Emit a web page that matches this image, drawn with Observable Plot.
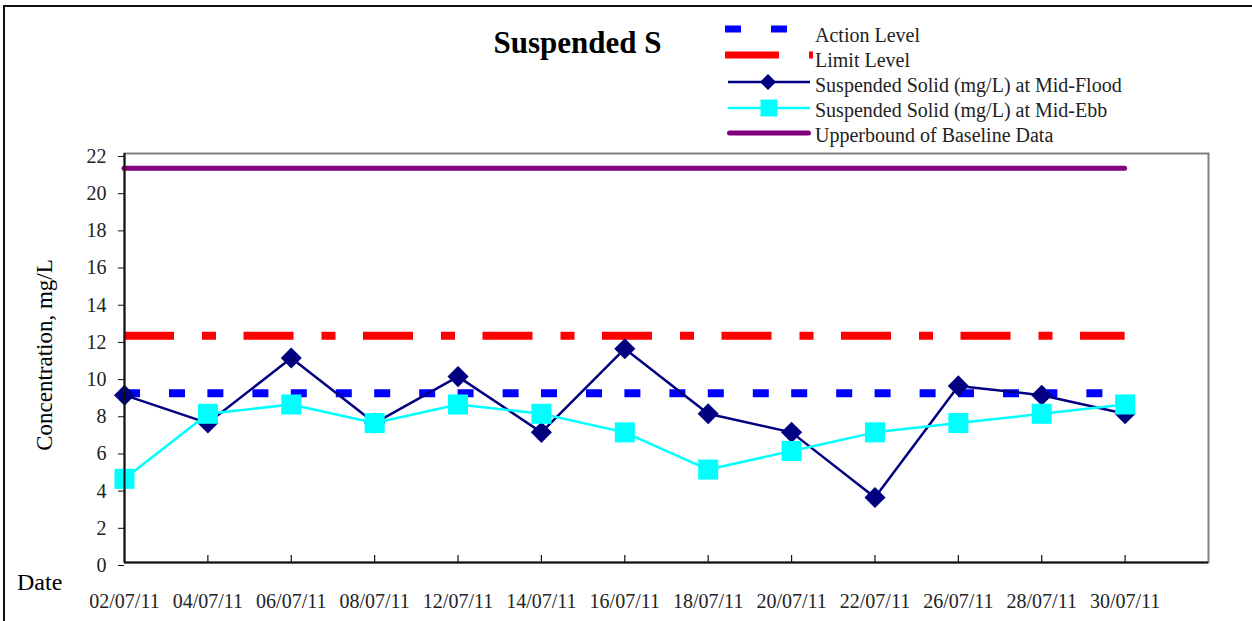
<!DOCTYPE html>
<html>
<head>
<meta charset="utf-8">
<script src="https://cdn.jsdelivr.net/npm/d3@7"></script>
<script src="https://cdn.jsdelivr.net/npm/@observablehq/plot@0.6"></script>
<style>
  html, body { margin: 0; padding: 0; background: #fff; overflow: hidden; }
  #chart { position: relative; width: 1252px; height: 621px; overflow: hidden; }
  #chart > svg { position: absolute; left: 0; top: 0; }
  .border { position: absolute; left: 3px; top: 5px; width: 1400px; height: 800px;
            border-left: 2px solid #111; border-top: 2px solid #111; }
</style>
</head>
<body>
<div id="chart"><div class="border"></div></div>
<script>
// Sampling dates (x categories)
const dates = ["02/07/11", "04/07/11", "06/07/11", "08/07/11", "12/07/11", "14/07/11", "16/07/11",
               "18/07/11", "20/07/11", "22/07/11", "26/07/11", "28/07/11", "30/07/11"];

// Suspended solids (mg/L)
const midFlood = [9, 7.5, 11, 7.5, 10, 7, 11.5, 8, 7, 3.5, 9.5, 9, 8];
const midEbb   = [4.5, 8, 8.5, 7.5, 8.5, 8, 7, 5, 6, 7, 7.5, 8, 8.5];

// Compliance levels (mg/L)
const actionLevel = 9.1;
const limitLevel = 12.2;
const baselineUpper = 21.2;

// Axis ticks
const yTicks = [0, 2, 4, 6, 8, 10, 12, 14, 16, 18, 20, 22];
const xTicks = d3.range(dates.length);

const rows = dates.map((date, i) => ({i, date, flood: midFlood[i], ebb: midEbb[i]}));
const first = 0, last = dates.length - 1;

const W = 1252, H = 621;
const margin = {top: 153, right: 44, bottom: 59, left: 124};
const innerH = H - margin.top - margin.bottom;

const plot = Plot.plot({
  width: W,
  height: H,
  marginTop: margin.top,
  marginRight: margin.right,
  marginBottom: margin.bottom,
  marginLeft: margin.left,
  style: {fontFamily: "'Liberation Serif', serif", fontSize: "20px", color: "#222", background: "transparent", overflow: "visible"},
  x: {type: "linear", domain: [0, dates.length], axis: null, label: null},
  y: {domain: [0, 22], axis: null, label: null},
  marks: [
    Plot.frame({stroke: "#808080", strokeWidth: 2}),
    // level lines
    Plot.ruleY([actionLevel], {x1: first, x2: last, stroke: "#0000FF", strokeWidth: 8, strokeDasharray: "16,29,16,22.4"}),
    Plot.ruleY([limitLevel], {x1: first, x2: last, stroke: "#FF0000", strokeWidth: 8, strokeDasharray: "50,28,14,27.5"}),
    // mid-flood series
    Plot.line(rows, {x: "i", y: "flood", stroke: "#000080", strokeWidth: 2.5}),
    Plot.dot(rows, {x: "i", y: "flood", symbol: "diamond2", r: 9.5, fill: "#000080", stroke: "none"}),
    // mid-ebb series
    Plot.line(rows, {x: "i", y: "ebb", stroke: "#00FFFF", strokeWidth: 2.5}),
    Plot.dot(rows, {x: "i", y: "ebb", symbol: "square", r: 11.3, fill: "#00FFFF", stroke: "none"}),
    // baseline upper bound
    Plot.ruleY([baselineUpper], {x1: first, x2: last, stroke: "#800080", strokeWidth: 5, strokeLinecap: "round"}),
    // axes
    Plot.ruleX([0], {stroke: "#111", strokeWidth: 2}),
    Plot.ruleY([0], {stroke: "#111", strokeWidth: 2}),
    Plot.tickX(xTicks.slice(1), {x: d => d, stroke: "#111", strokeWidth: 1.2, insetTop: innerH - 7}),
    Plot.axisY(yTicks, {tickSize: 6, tickPadding: 12, dy: 3, stroke: "#111", fill: "#222", label: null}),
    Plot.axisX(xTicks, {tickFormat: i => dates[i], tickSize: 0, tickPadding: 31, fill: "#222", label: null})
  ]
});
document.getElementById("chart").appendChild(plot);

// Title, axis titles and legend
const svg = d3.select("#chart").append("svg")
  .attr("width", W).attr("height", H)
  .style("font-family", "'Liberation Serif', serif")
  .style("pointer-events", "none");

svg.append("text")
  .attr("x", 577.5).attr("y", 53)
  .attr("text-anchor", "middle")
  .attr("font-size", 31).attr("font-weight", "bold").attr("fill", "#000")
  .text("Suspended S");

svg.append("text")
  .attr("transform", "translate(44,355) rotate(-90)")
  .attr("text-anchor", "middle").attr("dominant-baseline", "central")
  .attr("font-size", 23).attr("fill", "#000")
  .text("Concentration, mg/L");

svg.append("text")
  .attr("x", 17).attr("y", 590)
  .attr("font-size", 24).attr("fill", "#000")
  .text("Date");

const legend = [
  {label: "Action Level", kind: "action"},
  {label: "Limit Level", kind: "limit"},
  {label: "Suspended Solid (mg/L) at Mid-Flood", kind: "flood"},
  {label: "Suspended Solid (mg/L) at Mid-Ebb", kind: "ebb"},
  {label: "Upperbound of Baseline Data", kind: "base"}
];
const lg = svg.append("g");
legend.forEach((d, k) => {
  const base = 42 + k * 25;   // text baseline
  const cy = base - 10;       // swatch centre
  const g = lg.append("g");
  if (d.kind === "action") {
    g.append("line").attr("x1", 725).attr("x2", 787).attr("y1", cy - 3).attr("y2", cy - 3)
      .attr("stroke", "#0000FF").attr("stroke-width", 7).attr("stroke-dasharray", "16,30");
  } else if (d.kind === "limit") {
    g.append("line").attr("x1", 725).attr("x2", 813).attr("y1", cy - 2).attr("y2", cy - 2)
      .attr("stroke", "#FF0000").attr("stroke-width", 7).attr("stroke-dasharray", "54,30,4");
  } else if (d.kind === "flood") {
    g.append("line").attr("x1", 728).attr("x2", 810).attr("y1", cy).attr("y2", cy)
      .attr("stroke", "#000080").attr("stroke-width", 2.5);
    g.append("path").attr("d", `M768,${cy - 8}L776,${cy}L768,${cy + 8}L760,${cy}Z`).attr("fill", "#000080");
  } else if (d.kind === "ebb") {
    g.append("line").attr("x1", 728).attr("x2", 810).attr("y1", cy + 1).attr("y2", cy + 1)
      .attr("stroke", "#00FFFF").attr("stroke-width", 2.5);
    g.append("rect").attr("x", 760.5).attr("y", cy + 1 - 8.5).attr("width", 17).attr("height", 17).attr("fill", "#00FFFF");
  } else {
    g.append("line").attr("x1", 729.5).attr("x2", 808.5).attr("y1", cy + 1).attr("y2", cy + 1)
      .attr("stroke", "#800080").attr("stroke-width", 5).attr("stroke-linecap", "round");
  }
  lg.append("text").attr("x", 815).attr("y", base)
    .attr("font-size", 20).attr("fill", "#222").text(d.label);
});
</script>
</body>
</html>
